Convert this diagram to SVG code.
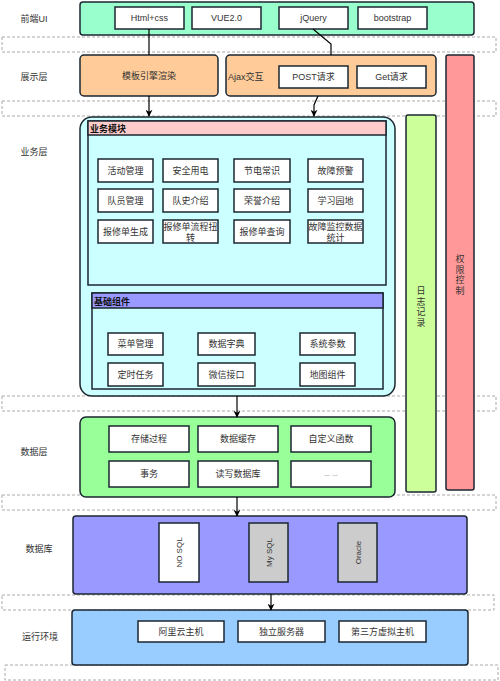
<svg xmlns="http://www.w3.org/2000/svg" width="500" height="681" viewBox="0 0 500 681">
<defs>
<marker id="arr" viewBox="0 0 10 10" refX="9" refY="5" markerWidth="7" markerHeight="7" orient="auto" markerUnits="userSpaceOnUse">
<path d="M0,0 L10,5 L0,10 L3,5 Z" fill="#000"/>
</marker>
<style>
text{font-family:"Liberation Sans","Noto Sans CJK SC",sans-serif;font-size:9px;fill:#333;}
.c{text-anchor:middle;}
.lbl{font-size:9px;fill:#333;}
.sep{fill:none;stroke:#aaa;stroke-width:1;stroke-dasharray:3 2;}
.box{stroke:#1b2631;stroke-width:1.5;}
.item{fill:#fff;stroke:#1b2631;stroke-width:1.5;}
.hdr{font-weight:bold;fill:#111;}
.line{fill:none;stroke:#000;stroke-width:1.2;}
</style>
</defs>
<rect width="500" height="681" fill="#fff"/>
<g id="separators">
<rect class="sep" x="2" y="37" width="494" height="15"/>
<rect class="sep" x="2" y="101" width="494" height="15"/>
<rect class="sep" x="2" y="396" width="494" height="15"/>
<rect class="sep" x="2" y="495" width="494" height="15"/>
<rect class="sep" x="2" y="595" width="492" height="15"/>
<rect class="sep" x="5" y="665" width="493" height="15"/>
</g>
<g id="layer-labels">
<text class="lbl c" x="34" y="22">前端UI</text>
<text class="lbl c" x="34" y="80">展示层</text>
<text class="lbl c" x="34" y="155">业务层</text>
<text class="lbl c" x="34" y="455">数据层</text>
<text class="lbl c" x="39" y="552">数据库</text>
<text class="lbl c" x="40" y="640">运行环境</text>
</g>
<g id="frontend">
<rect class="box" x="80" y="2" width="394" height="33" rx="3" fill="#99FFCC"/>
<g id="html-css"><rect class="item" x="115" y="7" width="69" height="22"/><text class="c" x="149.5" y="21">Html+css</text></g>
<g id="vue"><rect class="item" x="192" y="7" width="69" height="22"/><text class="c" x="226.5" y="21">VUE2.0</text></g>
<g id="jquery"><rect class="item" x="279" y="7" width="69" height="22"/><text class="c" x="313.5" y="21">jQuery</text></g>
<g id="bootstrap"><rect class="item" x="358" y="7" width="69" height="22"/><text class="c" x="392.5" y="21">bootstrap</text></g>
</g>
<g id="template-render">
<rect class="box" x="80" y="55" width="138" height="41" rx="4" fill="#FFCC99"/>
<text class="c" x="149" y="79">模板引擎渲染</text>
</g>
<g id="ajax">
<rect class="box" x="226" y="55" width="210" height="41" rx="4" fill="#FFCC99"/>
<text x="228" y="80">Ajax交互</text>
<g id="post"><rect class="item" x="279" y="66" width="69" height="22"/><text class="c" x="313.5" y="80">POST请求</text></g>
<g id="get"><rect class="item" x="357" y="66" width="69" height="22"/><text class="c" x="391.5" y="80">Get请求</text></g>
</g>
<g id="log">
<rect class="box" x="406" y="115" width="30" height="377" rx="2" fill="#CCFF99"/>
<text class="c" x="421" y="294"><tspan x="421">日</tspan><tspan x="421" dy="10.5">志</tspan><tspan x="421" dy="10.5">记</tspan><tspan x="421" dy="10.5">录</tspan></text>
</g>
<g id="permission">
<rect class="box" x="446" y="55" width="28" height="435" rx="2" fill="#FF9999"/>
<text class="c" x="460" y="262"><tspan x="460">权</tspan><tspan x="460" dy="10.5">限</tspan><tspan x="460" dy="10.5">控</tspan><tspan x="460" dy="10.5">制</tspan></text>
</g>
<g id="business">
<rect class="box" x="80" y="117" width="315" height="279" rx="12" fill="#CCFFFF"/>
<g id="business-modules">
<rect class="box" x="88" y="121" width="298" height="164" fill="#CCFFFF"/>
<rect class="box" x="88" y="121" width="298" height="14" fill="#FFCCCC"/>
<text class="hdr" x="90" y="132">业务模块</text>
<g id="m1"><rect class="item" x="98" y="159" width="55" height="23"/><text class="c" x="125.5" y="174">活动管理</text></g>
<g id="m2"><rect class="item" x="163" y="159" width="55" height="23"/><text class="c" x="190.5" y="174">安全用电</text></g>
<g id="m3"><rect class="item" x="234" y="159" width="56" height="23"/><text class="c" x="262" y="174">节电常识</text></g>
<g id="m4"><rect class="item" x="308" y="159" width="55" height="23"/><text class="c" x="335.5" y="174">故障预警</text></g>
<g id="m5"><rect class="item" x="98" y="189" width="55" height="23"/><text class="c" x="125.5" y="204">队员管理</text></g>
<g id="m6"><rect class="item" x="163" y="189" width="55" height="23"/><text class="c" x="190.5" y="204">队史介绍</text></g>
<g id="m7"><rect class="item" x="234" y="189" width="56" height="23"/><text class="c" x="262" y="204">荣誉介绍</text></g>
<g id="m8"><rect class="item" x="308" y="189" width="55" height="23"/><text class="c" x="335.5" y="204">学习园地</text></g>
<g id="m9"><rect class="item" x="98" y="220" width="55" height="23"/><text class="c" x="125.5" y="235">报修单生成</text></g>
<g id="m10"><rect class="item" x="163" y="220" width="55" height="23"/><text class="c" x="190.5" y="230">报修单流程扭</text><text class="c" x="190.5" y="241">转</text></g>
<g id="m11"><rect class="item" x="234" y="220" width="56" height="23"/><text class="c" x="262" y="235">报修单查询</text></g>
<g id="m12"><rect class="item" x="308" y="220" width="55" height="23"/><text class="c" x="335.5" y="230">故障监控数据</text><text class="c" x="335.5" y="241">统计</text></g>
</g>
<g id="base-components">
<rect class="box" x="92" y="293" width="291" height="96" fill="#CCFFFF"/>
<rect class="box" x="92" y="293" width="291" height="15" fill="#9999FF"/>
<text class="hdr" x="94" y="305">基础组件</text>
<g id="b1"><rect class="item" x="108" y="333" width="55" height="22"/><text class="c" x="135.5" y="347">菜单管理</text></g>
<g id="b2"><rect class="item" x="198" y="333" width="57" height="22"/><text class="c" x="226.5" y="347">数据字典</text></g>
<g id="b3"><rect class="item" x="300" y="333" width="55" height="22"/><text class="c" x="327.5" y="347">系统参数</text></g>
<g id="b4"><rect class="item" x="108" y="363" width="55" height="23"/><text class="c" x="135.5" y="378">定时任务</text></g>
<g id="b5"><rect class="item" x="198" y="363" width="57" height="23"/><text class="c" x="226.5" y="378">微信接口</text></g>
<g id="b6"><rect class="item" x="300" y="363" width="55" height="23"/><text class="c" x="327.5" y="378">地图组件</text></g>
</g>
</g>
<g id="data-layer">
<rect class="box" x="80" y="417" width="315" height="80" rx="6" fill="#99FF99"/>
<g id="d1"><rect class="item" x="109" y="426" width="80" height="26"/><text class="c" x="149" y="442">存储过程</text></g>
<g id="d2"><rect class="item" x="198" y="426" width="80" height="26"/><text class="c" x="238" y="442">数据缓存</text></g>
<g id="d3"><rect class="item" x="291" y="426" width="80" height="26"/><text class="c" x="331" y="442">自定义函数</text></g>
<g id="d4"><rect class="item" x="109" y="461" width="80" height="26"/><text class="c" x="149" y="477">事务</text></g>
<g id="d5"><rect class="item" x="198" y="461" width="80" height="26"/><text class="c" x="238" y="477">读写数据库</text></g>
<g id="d6"><rect class="item" x="291" y="461" width="80" height="26"/><text class="c" x="331" y="476" style="font-size:7px;fill:#666">... ...</text></g>
</g>
<g id="database">
<rect class="box" x="73" y="516" width="394" height="78" rx="3" fill="#9999FF"/>
<g id="nosql"><rect class="item" x="159" y="523" width="40" height="59"/><text class="c" transform="translate(179,552.5) rotate(-90)" x="0" y="3" style="font-size:8px">NO SQL</text></g>
<g id="mysql"><rect class="item" x="249" y="523" width="39" height="59" style="fill:#CCCCCC"/><text class="c" transform="translate(268.5,552.5) rotate(-90)" x="0" y="3" style="font-size:8px">My SQL</text></g>
<g id="oracle"><rect class="item" x="338" y="523" width="39" height="59" style="fill:#CCCCCC"/><text class="c" transform="translate(357.5,552.5) rotate(-90)" x="0" y="3" style="font-size:8px">Oracle</text></g>
</g>
<g id="runtime">
<rect class="box" x="72" y="610" width="396" height="55" rx="3" fill="#99CCFF"/>
<g id="r1"><rect class="item" x="138" y="621" width="86" height="21"/><text class="c" x="181" y="635">阿里云主机</text></g>
<g id="r2"><rect class="item" x="238" y="621" width="87" height="21"/><text class="c" x="281.5" y="635">独立服务器</text></g>
<g id="r3"><rect class="item" x="339" y="621" width="87" height="21"/><text class="c" x="382.5" y="635">第三方虚拟主机</text></g>
</g>
<g id="connectors">
<path class="line" d="M149,29 L149,55"/>
<path class="line" d="M313,29 L331,44 L331,55"/>
<path class="line" d="M149,96 L149,116" marker-end="url(#arr)"/>
<path class="line" d="M318,96 L314,105 L314,116" marker-end="url(#arr)"/>
<path class="line" d="M237,396 L237,417" marker-end="url(#arr)"/>
<path class="line" d="M237,497 L237,516" marker-end="url(#arr)"/>
<path class="line" d="M271,594 L271,610" marker-end="url(#arr)"/>
</g>
</svg>
